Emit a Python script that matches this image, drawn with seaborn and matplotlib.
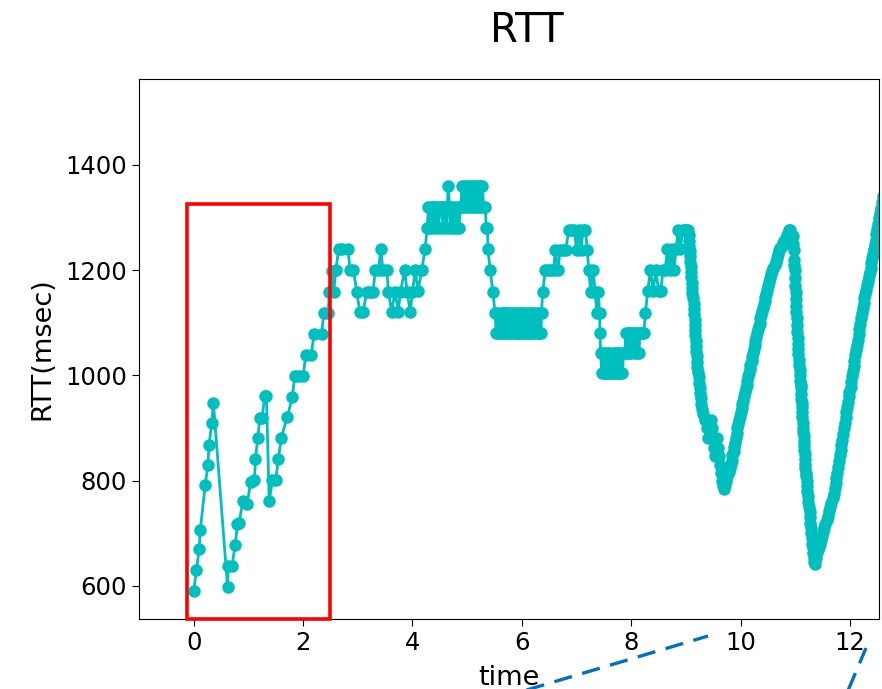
import numpy as np
import pandas as pd
import matplotlib
matplotlib.use("Agg")
import matplotlib.pyplot as plt
import seaborn as sns
from matplotlib.patches import Rectangle
from matplotlib.lines import Line2D

# ---- data (time in s, RTT in msec) ----
t1 = [0.00, 0.05, 0.10, 0.12, 0.21, 0.26, 0.28, 0.33, 0.36, 0.62, 0.63, 0.70, 0.76, 0.80, 0.83,
      0.90, 0.98, 1.04, 1.11, 1.13, 1.17, 1.21, 1.25, 1.30, 1.33, 1.38, 1.44, 1.50, 1.55, 1.60,
      1.71, 1.80, 1.85, 1.93, 2.00]
r1 = [590, 630, 670, 706, 791, 830, 867, 909, 948, 597, 638, 638, 678, 718, 720,
      762, 756, 797, 801, 841, 881, 919, 919, 961, 961, 761, 801, 802, 841, 881,
      920, 958, 998, 998, 998]

t2 = [2.05, 2.15, 2.20, 2.34, 2.38, 2.46, 2.48, 2.52, 2.56, 2.60, 2.65, 2.72, 2.82, 2.86, 2.92,
      2.98, 3.04, 3.10, 3.16, 3.22, 3.28, 3.32, 3.38, 3.42, 3.46, 3.53, 3.56, 3.62, 3.68, 3.74,
      3.78, 3.86, 3.90, 3.96, 4.00, 4.05, 4.10, 4.17, 4.23]
r2 = [1039, 1039, 1079, 1079, 1119, 1119, 1159, 1199, 1159, 1200, 1240, 1240, 1240, 1200, 1200,
      1159, 1120, 1120, 1159, 1159, 1159, 1200, 1200, 1240, 1200, 1200, 1159, 1121, 1159, 1121,
      1159, 1200, 1159, 1121, 1159, 1200, 1160, 1200, 1240]

t3 = [4.27, 4.29, 4.31, 4.33, 4.36, 4.38, 4.40, 4.43, 4.45, 4.48, 4.50, 4.53, 4.56, 4.58,
      4.61, 4.63, 4.65, 4.68, 4.70, 4.73, 4.75, 4.78, 4.80, 4.83, 4.85, 4.88, 4.91, 4.93,
      4.96, 4.98, 5.01, 5.03, 5.06, 5.08, 5.10, 5.12, 5.14, 5.17, 5.19, 5.21, 5.24, 5.26,
      5.28, 5.30, 5.33, 5.35, 5.37, 5.38, 5.42, 5.47]
r3 = [1280, 1320, 1280, 1320, 1280, 1320, 1320, 1280, 1320, 1280, 1320, 1320, 1280, 1320,
      1320, 1280, 1360, 1320, 1280, 1320, 1280, 1320, 1280, 1320, 1280, 1320, 1360, 1320,
      1360, 1320, 1360, 1320, 1360, 1320, 1360, 1320, 1360, 1320, 1360, 1320, 1360, 1320,
      1360, 1320, 1320, 1280, 1280, 1240, 1200, 1159]

t4 = [5.51, 5.53, 5.55, 5.57, 5.59, 5.61, 5.63, 5.65, 5.67, 5.69, 5.71, 5.73, 5.75, 5.77,
      5.79, 5.81, 5.83, 5.85, 5.87, 5.89, 5.91, 5.93, 5.95, 5.97, 5.99, 6.01, 6.03, 6.05,
      6.07, 6.09, 6.11, 6.13, 6.15, 6.17, 6.19, 6.21, 6.23, 6.25, 6.27, 6.29, 6.31, 6.33,
      6.35, 6.36]
r4 = [1118, 1080, 1118, 1080, 1080, 1118, 1080, 1118, 1080, 1118, 1118, 1080, 1118, 1080,
      1080, 1118, 1080, 1118, 1080, 1118, 1080, 1080, 1118, 1080, 1118, 1080, 1118, 1080,
      1118, 1080, 1080, 1118, 1080, 1118, 1080, 1118, 1080, 1118, 1080, 1080, 1118, 1080,
      1080, 1118]

t5 = [6.38, 6.43, 6.48, 6.53, 6.58, 6.61, 6.66, 6.70, 6.75, 6.80, 6.86, 6.91, 6.96, 7.00,
      7.04, 7.08, 7.12, 7.16, 7.20, 7.22, 7.26, 7.30, 7.34, 7.37, 7.40, 7.42, 7.43]
r5 = [1159, 1200, 1200, 1200, 1200, 1238, 1200, 1238, 1238, 1238, 1276, 1276, 1276, 1238,
      1276, 1238, 1276, 1276, 1238, 1200, 1159, 1200, 1159, 1118, 1159, 1118, 1080]

t6 = [7.44, 7.46, 7.48, 7.50, 7.52, 7.54, 7.56, 7.58, 7.60, 7.62, 7.64, 7.66, 7.68, 7.70,
      7.72, 7.74, 7.76, 7.78, 7.80, 7.82, 7.84, 7.86, 7.88, 7.90, 7.92, 7.94, 7.96, 7.98,
      8.00, 8.02, 8.04, 8.06, 8.08, 8.10, 8.12, 8.14, 8.16, 8.18, 8.20]
r6 = [1042, 1004, 1042, 1004, 1004, 1042, 1004, 1042, 1004, 1042, 1004, 1004, 1042, 1004,
      1042, 1004, 1042, 1004, 1004, 1042, 1004, 1042, 1042, 1080, 1042, 1080, 1042, 1080,
      1042, 1080, 1080, 1042, 1080, 1042, 1080, 1042, 1080, 1080, 1080]

t7 = [8.23, 8.26, 8.30, 8.35, 8.40, 8.45, 8.50, 8.54, 8.58, 8.62, 8.66, 8.70, 8.74, 8.78,
      8.82, 8.86, 8.90, 8.94, 8.98, 9.02]
r7 = [1080, 1118, 1160, 1200, 1160, 1200, 1160, 1160, 1200, 1200, 1240, 1200, 1240, 1200,
      1240, 1276, 1240, 1276, 1276, 1276]

t8 = [9.04, 9.05, 9.06, 9.06, 9.07, 9.08, 9.08, 9.09, 9.10, 9.10, 9.11, 9.12, 9.12, 9.13,
      9.14, 9.15, 9.15, 9.16, 9.16, 9.17, 9.17, 9.18, 9.18, 9.19, 9.20, 9.20, 9.21, 9.22,
      9.23, 9.24, 9.25, 9.26, 9.27, 9.28, 9.30, 9.31, 9.34, 9.37, 9.39, 9.41, 9.43, 9.45,
      9.47, 9.49, 9.51, 9.53, 9.55, 9.57, 9.59, 9.61, 9.63, 9.64, 9.66, 9.68, 9.70]
r8 = [1276, 1266, 1256, 1246, 1236, 1226, 1216, 1206, 1196, 1186, 1176, 1166, 1156, 1146,
      1136, 1126, 1116, 1106, 1096, 1086, 1076, 1066, 1056, 1046, 1036, 1026, 1016, 1006,
      996, 986, 976, 966, 956, 946, 936, 926, 915, 915, 900, 880, 900, 915,
      900, 880, 862, 846, 862, 880, 862, 846, 830, 815, 800, 790, 784]

t9 = [9.72, 9.74, 9.76, 9.78, 9.80, 9.82, 9.84, 9.85, 9.87, 9.88, 9.90, 9.91, 9.93, 9.94,
      9.96, 9.97, 9.99, 10.00, 10.02, 10.03, 10.05, 10.06, 10.08, 10.09, 10.11, 10.12, 10.14,
      10.15, 10.17, 10.18, 10.20, 10.21, 10.23, 10.24, 10.26, 10.27, 10.29, 10.30, 10.32,
      10.33, 10.35, 10.36, 10.38, 10.39, 10.41, 10.42, 10.44, 10.45, 10.47, 10.48, 10.50,
      10.52, 10.54, 10.56, 10.58, 10.60, 10.62, 10.64, 10.66, 10.68, 10.70, 10.72, 10.75,
      10.78, 10.80, 10.83, 10.85, 10.87, 10.89]
r9 = [792, 800, 808, 816, 824, 832, 840, 848, 856, 864, 872, 881, 890, 899,
      908, 916, 922, 930, 938, 945, 952, 960, 968, 975, 982, 990, 998,
      1005, 1012, 1020, 1028, 1035, 1042, 1050, 1058, 1065, 1072, 1080, 1088,
      1094, 1100, 1108, 1115, 1122, 1128, 1135, 1142, 1148, 1155, 1162, 1170,
      1178, 1185, 1192, 1198, 1204, 1210, 1216, 1222, 1230, 1238, 1242, 1246,
      1251, 1256, 1261, 1266, 1271, 1276]

t10 = [10.91, 10.93, 10.94, 10.95, 10.96, 10.97, 10.98, 10.985, 10.99, 10.995, 11.00, 11.005,
       11.01, 11.015, 11.02, 11.025, 11.03, 11.035, 11.04, 11.045, 11.05, 11.055, 11.06,
       11.07, 11.08, 11.085, 11.09, 11.095, 11.10, 11.105, 11.11, 11.115, 11.12, 11.125,
       11.13, 11.135, 11.14, 11.145, 11.15, 11.155, 11.16, 11.165, 11.17, 11.175, 11.18,
       11.185, 11.19, 11.20, 11.21, 11.215, 11.22, 11.23, 11.24, 11.25, 11.26, 11.265,
       11.27, 11.28, 11.29, 11.30, 11.31, 11.32, 11.33, 11.34, 11.35, 11.36]
r10 = [1276, 1262, 1250, 1265, 1250, 1238, 1220, 1210, 1200, 1185, 1170, 1158,
       1145, 1132, 1120, 1108, 1095, 1082, 1070, 1060, 1050, 1040, 1030,
       1020, 1010, 1000, 990, 982, 975, 965, 955, 948, 940, 930,
       920, 910, 900, 892, 885, 876, 868, 859, 850, 841, 832,
       824, 815, 808, 800, 790, 780, 770, 760, 750, 740, 730,
       720, 710, 700, 690, 680, 671, 662, 653, 645, 642]

t11 = [11.37, 11.38, 11.40, 11.41, 11.43, 11.45, 11.47, 11.49, 11.51, 11.53, 11.55, 11.58,
       11.60, 11.62, 11.64, 11.66, 11.68, 11.70, 11.72, 11.74, 11.75, 11.77, 11.78, 11.80,
       11.81, 11.83, 11.84, 11.86, 11.87, 11.89, 11.90, 11.92, 11.93, 11.95, 11.96, 11.98,
       11.99, 12.01, 12.02, 12.04, 12.05, 12.07, 12.08, 12.10, 12.11, 12.13, 12.14, 12.16,
       12.17, 12.19, 12.20, 12.22, 12.23, 12.25, 12.26, 12.28, 12.29, 12.31, 12.33, 12.35,
       12.36, 12.38, 12.39, 12.41, 12.42, 12.44, 12.45, 12.47, 12.48, 12.50, 12.51, 12.53,
       12.54, 12.56, 12.58, 12.60]
r11 = [652, 660, 664, 668, 674, 680, 687, 694, 702, 710, 717, 725,
       733, 742, 750, 758, 766, 775, 785, 795, 805, 815, 826, 838,
       848, 858, 868, 878, 889, 900, 910, 920, 930, 940, 950, 960,
       969, 978, 988, 998, 1008, 1018, 1028, 1038, 1048, 1058, 1068, 1078,
       1088, 1098, 1108, 1118, 1128, 1138, 1146, 1155, 1163, 1172, 1180, 1188,
       1196, 1204, 1213, 1222, 1231, 1240, 1249, 1258, 1268, 1278, 1288, 1298,
       1308, 1318, 1329, 1340]

x_ticks = [0, 2, 4, 6, 8, 10, 12]
y_ticks = [600, 800, 1000, 1200, 1400]

time = t1 + t2 + t3 + t4 + t5 + t6 + t7 + t8 + t9 + t10 + t11
rtt = r1 + r2 + r3 + r4 + r5 + r6 + r7 + r8 + r9 + r10 + r11
df = pd.DataFrame({"time": time, "rtt": rtt})

# ---- figure ----
W, H = 882, 689
fig = plt.figure(figsize=(W / 100, H / 100), dpi=100)
ax = fig.add_axes([139 / W, 1 - 619 / H, (879 - 139) / W, (619 - 79) / H])

sns.lineplot(data=df, x="time", y="rtt", sort=False, estimator=None, ax=ax,
             color="#00BFBF", marker="o", markersize=9, markeredgewidth=0,
             markeredgecolor="#00BFBF", linewidth=2.0)

ax.set_xlim(-1.0, 12.53)
ax.set_ylim(537, 1563)
ax.set_xticks(x_ticks)
ax.set_yticks(y_ticks)
ax.tick_params(labelsize=17.5, length=5)
ax.set_xlabel("time", fontsize=19.5, labelpad=7)
ax.set_ylabel("RTT(msec)", fontsize=19.5, labelpad=7)
ax.set_title("RTT", fontsize=29, x=0.524, pad=27)

# red highlight box
ax.add_patch(Rectangle((-0.12, 537), 2.62, 788, fill=False, edgecolor="red",
                       linewidth=2.6, clip_on=False, zorder=5))

# blue dashed connector lines (figure coordinates)
def fxy(px, py):
    return px / W, 1 - py / H

for (xa, ya), (xb, yb) in [((493, 700), (708, 636)), ((844, 700), (866, 648))]:
    p0, p1 = fxy(xa, ya), fxy(xb, yb)
    fig.add_artist(Line2D([p0[0], p1[0]], [p0[1], p1[1]], transform=fig.transFigure,
                          color="#0070C0", linewidth=2.4, linestyle=(0, (5.5, 3.2))))

fig.savefig("out.png", dpi=100)
